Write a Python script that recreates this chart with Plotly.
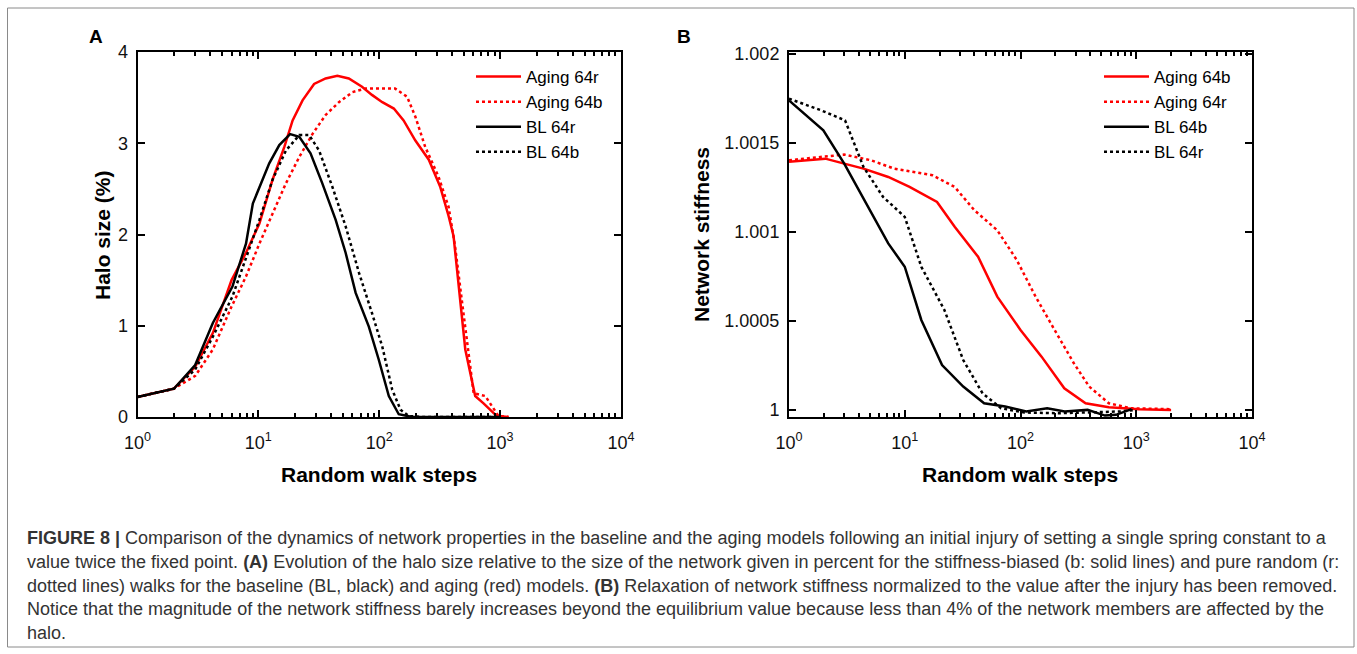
import plotly.graph_objects as go

W, H = 1357, 654

# ---------------- Panel A: Halo size (%) ----------------
a_aging64r_x = [1, 2, 3, 4.2, 6, 7.9, 10.2, 13.1, 16.4, 19.2, 23.2, 28.9, 36, 45, 56, 72, 87, 106, 132, 159,
                199, 257, 320, 375, 412, 454, 515, 622, 729, 939, 1175]
a_aging64r_y = [0.22, 0.31, 0.55, 0.92, 1.5, 1.8, 2.12, 2.6, 2.96, 3.25, 3.47, 3.65, 3.71, 3.74, 3.71, 3.62, 3.53,
                3.45, 3.38, 3.25, 3.03, 2.82, 2.52, 2.2, 1.98, 1.43, 0.74, 0.23, 0.15, 0.01, 0.0]

a_aging64b_x = [1, 2, 3, 4.2, 6, 7.9, 10.2, 13.1, 16.9, 21.8, 28, 36, 46.4, 60, 77, 99, 135, 170, 199, 240,
                310, 375, 424, 482, 548, 604, 754, 970, 1175]
a_aging64b_y = [0.22, 0.31, 0.45, 0.74, 1.21, 1.54, 1.9, 2.23, 2.56, 2.85, 3.1, 3.31, 3.45, 3.56, 3.6, 3.6, 3.6,
                3.51, 3.29, 2.96, 2.63, 2.3, 1.87, 1.28, 0.7, 0.26, 0.23, 0.01, 0.0]

a_bl64r_x = [1, 2, 3, 4.2, 6.1, 7.9, 9, 10.2, 12.3, 14.9, 18.3, 21.8, 27, 33.8, 43.6, 52.7, 63.8, 82, 99, 120,
             145, 188, 1000]
a_bl64r_y = [0.22, 0.31, 0.57, 1.03, 1.43, 1.9, 2.34, 2.52, 2.78, 2.98, 3.1, 3.07, 2.89, 2.56, 2.16, 1.8, 1.36,
             0.99, 0.63, 0.23, 0.03, 0.0, 0.0]

a_bl64b_x = [1, 2, 3, 4.2, 6.1, 8.4, 10.2, 13.1, 16.9, 21.8, 26.3, 31.8, 41, 52.7, 68, 87, 106, 128, 150, 176,
             230, 1000]
a_bl64b_y = [0.22, 0.31, 0.52, 0.88, 1.32, 1.83, 2.16, 2.6, 2.92, 3.09, 3.09, 2.92, 2.52, 2.09, 1.58, 1.14, 0.77,
             0.3, 0.08, 0.01, 0.0, 0.0]

# ---------------- Panel B: Network stiffness ----------------
b_aging64b_x = [1, 2.06, 3, 4.4, 7.2, 11, 19, 27, 43, 63, 100, 152, 239, 365, 580, 1060, 2000]
b_aging64b_y = [1.001393, 1.001411, 1.001383, 1.001355, 1.001308, 1.001252, 1.001168, 1.001028, 1.00086,
                1.000636, 1.000449, 1.000299, 1.000121, 1.000037, 1.000015, 1.000004, 1.0]

b_aging64r_x = [1, 2, 3, 5.1, 8.1, 17.3, 27, 40, 63, 93, 135, 197, 289, 392, 580, 900, 2000]
b_aging64r_y = [1.001402, 1.00142, 1.001434, 1.001402, 1.001355, 1.001318, 1.001252, 1.001121, 1.001009,
                1.000841, 1.000636, 1.000449, 1.000262, 1.000131, 1.000037, 1.000009, 1.000004]

b_bl64b_x = [1, 1.98, 3, 4.8, 7.2, 10, 13.9, 21, 32, 48.5, 73.7, 112, 170, 241, 380, 537, 668, 910]
b_bl64b_y = [1.001738, 1.00157, 1.001383, 1.00114, 1.000935, 1.000804, 1.000505, 1.000252, 1.000131,
             1.000037, 1.000019, 0.999991, 1.000009, 0.999991, 1.0, 0.999968, 0.999972, 1.000004]

b_bl64r_x = [1, 1.9, 3.05, 4.4, 6.5, 10, 13.9, 22, 32, 47, 68, 108, 215, 380, 720, 990]
b_bl64r_y = [1.001748, 1.001682, 1.001626, 1.001364, 1.001196, 1.001084, 1.000804, 1.000561, 1.00028,
             1.000093, 1.000009, 0.999985, 0.999981, 0.999985, 0.999991, 1.0]

x_tickvals = [1, 10, 100, 1000, 10000]
x_ticktext = ["10<sup>0</sup>", "10<sup>1</sup>", "10<sup>2</sup>", "10<sup>3</sup>", "10<sup>4</sup>"]
a_y_tickvals = [0, 1, 2, 3, 4]
a_y_ticktext = ["0", "1", "2", "3", "4"]
b_y_tickvals = [1.0, 1.0005, 1.001, 1.0015, 1.002]
b_y_ticktext = ["1", "1.0005", "1.001", "1.0015", "1.002"]

caption_lines = [
    "<b>FIGURE 8 |</b> Comparison of the dynamics of network properties in the baseline and the aging models following an initial injury of setting a single spring constant to a",
    "value twice the fixed point. <b>(A)</b> Evolution of the halo size relative to the size of the network given in percent for the stiffness-biased (b: solid lines) and pure random (r:",
    "dotted lines) walks for the baseline (BL, black) and aging (red) models. <b>(B)</b> Relaxation of network stiffness normalized to the value after the injury has been removed.",
    "Notice that the magnitude of the network stiffness barely increases beyond the equilibrium value because less than 4% of the network members are affected by the",
    "halo.",
]

FONT = "Liberation Sans, Arial, Helvetica, sans-serif"
RED = "#ff0000"
BLACK = "#000000"
LW = 2.5

fig = go.Figure()

def add(x, y, name, color, dash, xa, ya, legend):
    fig.add_trace(go.Scatter(x=x, y=y, name=name, mode="lines",
                             line=dict(color=color, width=LW, dash=dash),
                             xaxis=xa, yaxis=ya, legend=legend))

add(a_aging64r_x, a_aging64r_y, "Aging 64r", RED, "solid", "x", "y", "legend")
add(a_aging64b_x, a_aging64b_y, "Aging 64b", RED, "dot", "x", "y", "legend")
add(a_bl64r_x, a_bl64r_y, "BL 64r", BLACK, "solid", "x", "y", "legend")
add(a_bl64b_x, a_bl64b_y, "BL 64b", BLACK, "dot", "x", "y", "legend")

add(b_aging64b_x, b_aging64b_y, "Aging 64b", RED, "solid", "x2", "y2", "legend2")
add(b_aging64r_x, b_aging64r_y, "Aging 64r", RED, "dot", "x2", "y2", "legend2")
add(b_bl64b_x, b_bl64b_y, "BL 64b", BLACK, "solid", "x2", "y2", "legend2")
add(b_bl64r_x, b_bl64r_y, "BL 64r", BLACK, "dot", "x2", "y2", "legend2")

def px_x(p):
    return p / W

def px_y(p):
    return 1 - p / H

ydom = [px_y(417), px_y(52)]

common_x = dict(type="log", range=[0, 4], tickvals=x_tickvals, ticktext=x_ticktext,
                showline=True, linewidth=2, linecolor="black", mirror="allticks",
                ticks="inside", ticklen=7, tickwidth=1.5, tickcolor="black",
                showgrid=False, zeroline=False, ticklabelstandoff=8, automargin=False,
                tickfont=dict(family=FONT, size=18, color="#111"),
                minor=dict(dtick="D1", ticks="inside", ticklen=4, tickwidth=1.5, tickcolor="black", showgrid=False))
common_y = dict(showline=True, linewidth=2, linecolor="black", mirror="allticks",
                ticks="inside", ticklen=7, tickwidth=1.5, tickcolor="black",
                showgrid=False, zeroline=False, ticklabelstandoff=4, automargin=False,
                tickfont=dict(family=FONT, size=18, color="#111"))

fig.update_layout(
    template="none",
    width=W, height=H, margin=dict(l=0, r=0, t=0, b=0, pad=0), autosize=False,
    paper_bgcolor="white", plot_bgcolor="white",
    font=dict(family=FONT, color="black"),
    xaxis=dict(domain=[px_x(137.5), px_x(621)], anchor="y", **common_x),
    yaxis=dict(domain=ydom, anchor="x", range=[0, 4], tickvals=a_y_tickvals, ticktext=a_y_ticktext, **common_y),
    xaxis2=dict(domain=[px_x(789), px_x(1252)], anchor="y2", **common_x),
    yaxis2=dict(domain=ydom, anchor="x2", range=[0.99996, 1.00201], tickvals=b_y_tickvals,
                ticktext=b_y_ticktext, **common_y),
    legend=dict(x=px_x(471), y=px_y(59), xanchor="left", yanchor="top", bgcolor="rgba(0,0,0,0)",
                font=dict(family=FONT, size=17, color="black"), itemwidth=45, tracegroupgap=0),
    legend2=dict(x=px_x(1099), y=px_y(59), xanchor="left", yanchor="top", bgcolor="rgba(0,0,0,0)",
                 font=dict(family=FONT, size=17, color="black"), itemwidth=45, tracegroupgap=0),
    showlegend=True,
)

annots = [
    dict(text="<b>A</b>", x=px_x(96), y=px_y(36), xanchor="center", yanchor="middle", font=dict(size=19)),
    dict(text="<b>B</b>", x=px_x(684), y=px_y(36), xanchor="center", yanchor="middle", font=dict(size=19)),
    dict(text="<b>Random walk steps</b>", x=px_x(379), y=px_y(474), xanchor="center", yanchor="middle",
         font=dict(size=21)),
    dict(text="<b>Random walk steps</b>", x=px_x(1020), y=px_y(474), xanchor="center", yanchor="middle",
         font=dict(size=21)),
    dict(text="<b>Halo size (%)</b>", x=px_x(102), y=px_y(235), xanchor="center", yanchor="middle",
         textangle=-90, font=dict(size=21)),
    dict(text="<b>Network stiffness</b>", x=px_x(701), y=px_y(235), xanchor="center", yanchor="middle",
         textangle=-90, font=dict(size=21)),
]
cap_y = [538, 562, 586, 609, 633]
for line, yy in zip(caption_lines, cap_y):
    annots.append(dict(text=line, x=px_x(25), y=px_y(yy), xanchor="left", yanchor="middle",
                       font=dict(size=18, color="#333333")))
for a in annots:
    a.update(xref="paper", yref="paper", showarrow=False)
    a.setdefault("font", {})
    a["font"].setdefault("family", FONT)
    a["font"].setdefault("color", "black")
fig.update_layout(annotations=annots)

fig.add_shape(type="rect", xref="paper", yref="paper", x0=px_x(7.5), x1=px_x(1354), y0=px_y(647), y1=px_y(8),
              line=dict(color="#8a8a8a", width=1), fillcolor="rgba(0,0,0,0)", layer="below")

fig.write_html("out.html")
